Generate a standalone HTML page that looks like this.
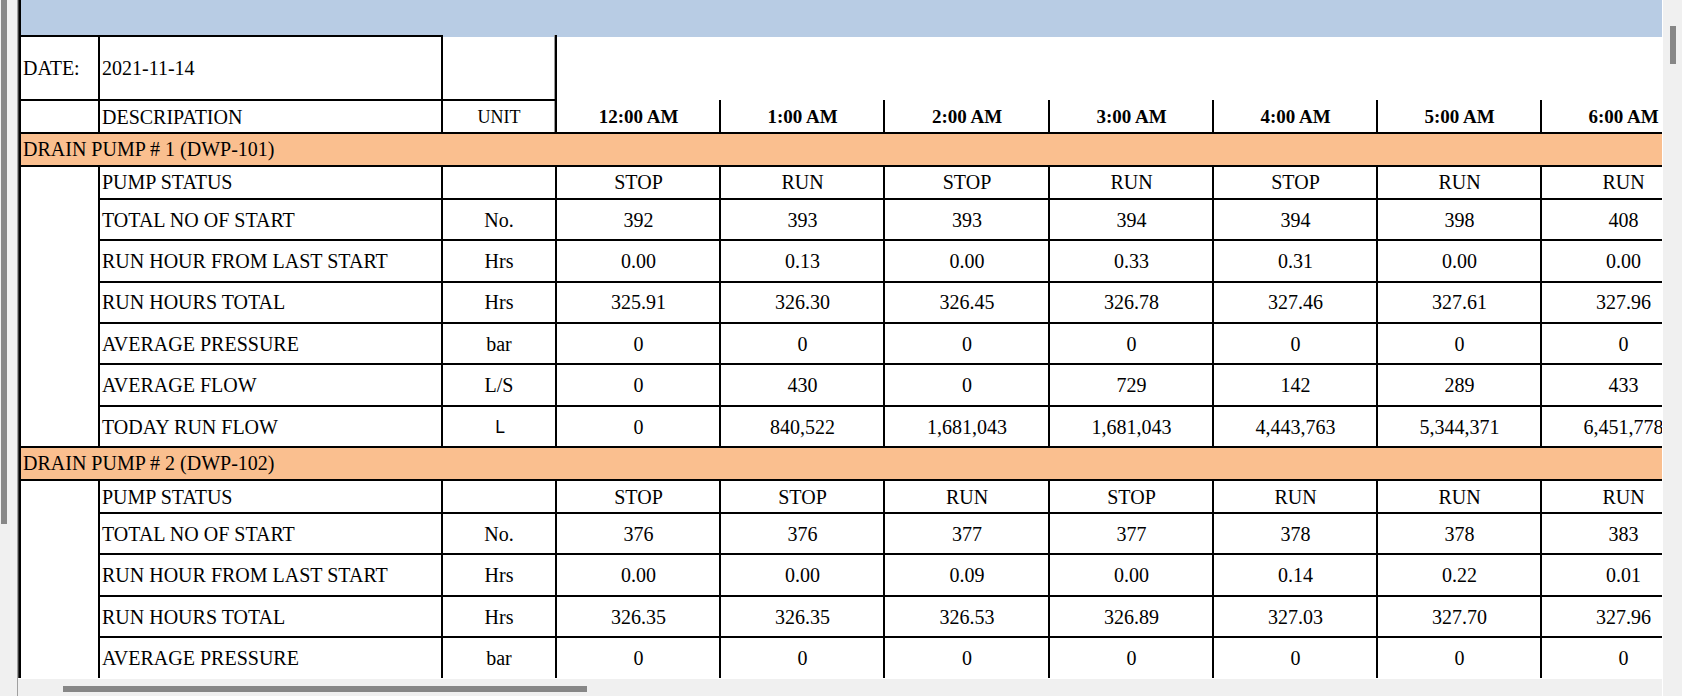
<!DOCTYPE html>
<html><head><meta charset="utf-8">
<style>
html,body{margin:0;padding:0;}
body{width:1682px;height:696px;overflow:hidden;background:#fff;position:relative;
font-family:"Liberation Serif",serif;font-size:20px;color:#000;}
#wrap{position:absolute;left:0;top:0;width:1682px;height:696px;overflow:hidden;}
#clip{position:absolute;left:0;top:0;width:1662px;height:678px;overflow:hidden;}
#clip div{position:absolute;box-sizing:border-box;}
.t{display:flex;align-items:center;white-space:nowrap;line-height:1;}
.b{font-weight:bold;font-size:19px;padding-top:0px;}
.s{font-family:"Liberation Sans",sans-serif;font-size:17.5px;padding-top:1px;transform:translate(1px,1px);}
.ui{position:absolute;}
</style></head><body><div id="wrap">
<div id="clip">
<div style="left:21px;top:0px;width:1641px;height:35px;background:#b8cce4;"></div>
<div style="left:443px;top:35px;width:1219px;height:2px;background:#b8cce4;"></div>
<div style="left:21px;top:134px;width:1641px;height:31px;background:#fabf8f;"></div>
<div style="left:21px;top:448px;width:1641px;height:31px;background:#fabf8f;"></div>
<div style="left:554px;top:35px;width:1px;height:98px;background:#999;"></div>
<div style="left:19px;top:35px;width:424px;height:2px;background:#000;"></div>
<div style="left:19px;top:99px;width:538px;height:2px;background:#000;"></div>
<div style="left:19px;top:132px;width:1643px;height:2px;background:#000;"></div>
<div style="left:19px;top:165px;width:1643px;height:2px;background:#000;"></div>
<div style="left:19px;top:446px;width:1643px;height:2px;background:#000;"></div>
<div style="left:19px;top:479px;width:1643px;height:2px;background:#000;"></div>
<div style="left:98px;top:198px;width:1564px;height:2px;background:#000;"></div>
<div style="left:98px;top:239px;width:1564px;height:2px;background:#000;"></div>
<div style="left:98px;top:281px;width:1564px;height:2px;background:#000;"></div>
<div style="left:98px;top:322px;width:1564px;height:2px;background:#000;"></div>
<div style="left:98px;top:363px;width:1564px;height:2px;background:#000;"></div>
<div style="left:98px;top:405px;width:1564px;height:2px;background:#000;"></div>
<div style="left:98px;top:512px;width:1564px;height:2px;background:#000;"></div>
<div style="left:98px;top:553px;width:1564px;height:2px;background:#000;"></div>
<div style="left:98px;top:595px;width:1564px;height:2px;background:#000;"></div>
<div style="left:98px;top:636px;width:1564px;height:2px;background:#000;"></div>
<div style="left:19px;top:0px;width:2px;height:678px;background:#000;"></div>
<div style="left:18px;top:0px;width:1px;height:678px;background:#3c3c3c;"></div>
<div style="left:98px;top:35px;width:2px;height:99px;background:#000;"></div>
<div style="left:98px;top:165px;width:2px;height:283px;background:#000;"></div>
<div style="left:98px;top:479px;width:2px;height:199px;background:#000;"></div>
<div style="left:441px;top:35px;width:2px;height:99px;background:#000;"></div>
<div style="left:441px;top:165px;width:2px;height:283px;background:#000;"></div>
<div style="left:441px;top:479px;width:2px;height:199px;background:#000;"></div>
<div style="left:555px;top:35px;width:2px;height:99px;background:#000;"></div>
<div style="left:555px;top:165px;width:2px;height:283px;background:#000;"></div>
<div style="left:555px;top:479px;width:2px;height:199px;background:#000;"></div>
<div style="left:719px;top:100px;width:2px;height:34px;background:#000;"></div>
<div style="left:719px;top:165px;width:2px;height:283px;background:#000;"></div>
<div style="left:719px;top:479px;width:2px;height:199px;background:#000;"></div>
<div style="left:883px;top:100px;width:2px;height:34px;background:#000;"></div>
<div style="left:883px;top:165px;width:2px;height:283px;background:#000;"></div>
<div style="left:883px;top:479px;width:2px;height:199px;background:#000;"></div>
<div style="left:1048px;top:100px;width:2px;height:34px;background:#000;"></div>
<div style="left:1048px;top:165px;width:2px;height:283px;background:#000;"></div>
<div style="left:1048px;top:479px;width:2px;height:199px;background:#000;"></div>
<div style="left:1212px;top:100px;width:2px;height:34px;background:#000;"></div>
<div style="left:1212px;top:165px;width:2px;height:283px;background:#000;"></div>
<div style="left:1212px;top:479px;width:2px;height:199px;background:#000;"></div>
<div style="left:1376px;top:100px;width:2px;height:34px;background:#000;"></div>
<div style="left:1376px;top:165px;width:2px;height:283px;background:#000;"></div>
<div style="left:1376px;top:479px;width:2px;height:199px;background:#000;"></div>
<div style="left:1540px;top:100px;width:2px;height:34px;background:#000;"></div>
<div style="left:1540px;top:165px;width:2px;height:283px;background:#000;"></div>
<div style="left:1540px;top:479px;width:2px;height:199px;background:#000;"></div>
<div class="t" style="left:21px;top:37px;width:77px;height:62px;justify-content:flex-start;padding-left:2px;">DATE:</div>
<div class="t" style="left:100px;top:37px;width:341px;height:62px;justify-content:flex-start;padding-left:2.0px;">2021-11-14</div>
<div class="t" style="left:100px;top:101px;width:341px;height:31px;justify-content:flex-start;padding-left:2.0px;">DESCRIPATION</div>
<div class="t" style="left:443px;top:101px;width:112px;height:31px;justify-content:center;padding-left:0px;font-size:18px;">UNIT</div>
<div class="t b" style="left:557.5px;top:101px;width:162px;height:31px;justify-content:center;padding-left:0px;">12:00 AM</div>
<div class="t b" style="left:721.5px;top:101px;width:162px;height:31px;justify-content:center;padding-left:0px;">1:00 AM</div>
<div class="t b" style="left:885.5px;top:101px;width:163px;height:31px;justify-content:center;padding-left:0px;">2:00 AM</div>
<div class="t b" style="left:1050.5px;top:101px;width:162px;height:31px;justify-content:center;padding-left:0px;">3:00 AM</div>
<div class="t b" style="left:1214.5px;top:101px;width:162px;height:31px;justify-content:center;padding-left:0px;">4:00 AM</div>
<div class="t b" style="left:1378.5px;top:101px;width:162px;height:31px;justify-content:center;padding-left:0px;">5:00 AM</div>
<div class="t b" style="left:1542.5px;top:101px;width:162px;height:31px;justify-content:center;padding-left:0px;">6:00 AM</div>
<div class="t" style="left:21px;top:133px;width:600px;height:31px;justify-content:flex-start;padding-left:2px;">DRAIN PUMP # 1 (DWP-101)</div>
<div class="t" style="left:21px;top:447px;width:600px;height:31px;justify-content:flex-start;padding-left:2px;">DRAIN PUMP # 2 (DWP-102)</div>
<div class="t" style="left:100px;top:166px;width:341px;height:32px;justify-content:flex-start;padding-left:2.0px;">PUMP STATUS</div>
<div class="t" style="left:557.5px;top:166px;width:162px;height:32px;justify-content:center;padding-left:0px;">STOP</div>
<div class="t" style="left:721.5px;top:166px;width:162px;height:32px;justify-content:center;padding-left:0px;">RUN</div>
<div class="t" style="left:885.5px;top:166px;width:163px;height:32px;justify-content:center;padding-left:0px;">STOP</div>
<div class="t" style="left:1050.5px;top:166px;width:162px;height:32px;justify-content:center;padding-left:0px;">RUN</div>
<div class="t" style="left:1214.5px;top:166px;width:162px;height:32px;justify-content:center;padding-left:0px;">STOP</div>
<div class="t" style="left:1378.5px;top:166px;width:162px;height:32px;justify-content:center;padding-left:0px;">RUN</div>
<div class="t" style="left:1542.5px;top:166px;width:162px;height:32px;justify-content:center;padding-left:0px;">RUN</div>
<div class="t" style="left:100px;top:200px;width:341px;height:39px;justify-content:flex-start;padding-left:2.0px;">TOTAL NO OF START</div>
<div class="t" style="left:443px;top:200px;width:112px;height:39px;justify-content:center;padding-left:0px;">No.</div>
<div class="t" style="left:557.5px;top:200px;width:162px;height:39px;justify-content:center;padding-left:0px;">392</div>
<div class="t" style="left:721.5px;top:200px;width:162px;height:39px;justify-content:center;padding-left:0px;">393</div>
<div class="t" style="left:885.5px;top:200px;width:163px;height:39px;justify-content:center;padding-left:0px;">393</div>
<div class="t" style="left:1050.5px;top:200px;width:162px;height:39px;justify-content:center;padding-left:0px;">394</div>
<div class="t" style="left:1214.5px;top:200px;width:162px;height:39px;justify-content:center;padding-left:0px;">394</div>
<div class="t" style="left:1378.5px;top:200px;width:162px;height:39px;justify-content:center;padding-left:0px;">398</div>
<div class="t" style="left:1542.5px;top:200px;width:162px;height:39px;justify-content:center;padding-left:0px;">408</div>
<div class="t" style="left:100px;top:241px;width:341px;height:40px;justify-content:flex-start;padding-left:2.0px;">RUN HOUR FROM LAST START</div>
<div class="t" style="left:443px;top:241px;width:112px;height:40px;justify-content:center;padding-left:0px;">Hrs</div>
<div class="t" style="left:557.5px;top:241px;width:162px;height:40px;justify-content:center;padding-left:0px;">0.00</div>
<div class="t" style="left:721.5px;top:241px;width:162px;height:40px;justify-content:center;padding-left:0px;">0.13</div>
<div class="t" style="left:885.5px;top:241px;width:163px;height:40px;justify-content:center;padding-left:0px;">0.00</div>
<div class="t" style="left:1050.5px;top:241px;width:162px;height:40px;justify-content:center;padding-left:0px;">0.33</div>
<div class="t" style="left:1214.5px;top:241px;width:162px;height:40px;justify-content:center;padding-left:0px;">0.31</div>
<div class="t" style="left:1378.5px;top:241px;width:162px;height:40px;justify-content:center;padding-left:0px;">0.00</div>
<div class="t" style="left:1542.5px;top:241px;width:162px;height:40px;justify-content:center;padding-left:0px;">0.00</div>
<div class="t" style="left:100px;top:282px;width:341px;height:40px;justify-content:flex-start;padding-left:2.0px;">RUN HOURS TOTAL</div>
<div class="t" style="left:443px;top:282px;width:112px;height:40px;justify-content:center;padding-left:0px;">Hrs</div>
<div class="t" style="left:557.5px;top:282px;width:162px;height:40px;justify-content:center;padding-left:0px;">325.91</div>
<div class="t" style="left:721.5px;top:282px;width:162px;height:40px;justify-content:center;padding-left:0px;">326.30</div>
<div class="t" style="left:885.5px;top:282px;width:163px;height:40px;justify-content:center;padding-left:0px;">326.45</div>
<div class="t" style="left:1050.5px;top:282px;width:162px;height:40px;justify-content:center;padding-left:0px;">326.78</div>
<div class="t" style="left:1214.5px;top:282px;width:162px;height:40px;justify-content:center;padding-left:0px;">327.46</div>
<div class="t" style="left:1378.5px;top:282px;width:162px;height:40px;justify-content:center;padding-left:0px;">327.61</div>
<div class="t" style="left:1542.5px;top:282px;width:162px;height:40px;justify-content:center;padding-left:0px;">327.96</div>
<div class="t" style="left:100px;top:324px;width:341px;height:39px;justify-content:flex-start;padding-left:2.0px;">AVERAGE PRESSURE</div>
<div class="t" style="left:443px;top:324px;width:112px;height:39px;justify-content:center;padding-left:0px;">bar</div>
<div class="t" style="left:557.5px;top:324px;width:162px;height:39px;justify-content:center;padding-left:0px;">0</div>
<div class="t" style="left:721.5px;top:324px;width:162px;height:39px;justify-content:center;padding-left:0px;">0</div>
<div class="t" style="left:885.5px;top:324px;width:163px;height:39px;justify-content:center;padding-left:0px;">0</div>
<div class="t" style="left:1050.5px;top:324px;width:162px;height:39px;justify-content:center;padding-left:0px;">0</div>
<div class="t" style="left:1214.5px;top:324px;width:162px;height:39px;justify-content:center;padding-left:0px;">0</div>
<div class="t" style="left:1378.5px;top:324px;width:162px;height:39px;justify-content:center;padding-left:0px;">0</div>
<div class="t" style="left:1542.5px;top:324px;width:162px;height:39px;justify-content:center;padding-left:0px;">0</div>
<div class="t" style="left:100px;top:365px;width:341px;height:40px;justify-content:flex-start;padding-left:2.0px;">AVERAGE FLOW</div>
<div class="t" style="left:443px;top:365px;width:112px;height:40px;justify-content:center;padding-left:0px;">L/S</div>
<div class="t" style="left:557.5px;top:365px;width:162px;height:40px;justify-content:center;padding-left:0px;">0</div>
<div class="t" style="left:721.5px;top:365px;width:162px;height:40px;justify-content:center;padding-left:0px;">430</div>
<div class="t" style="left:885.5px;top:365px;width:163px;height:40px;justify-content:center;padding-left:0px;">0</div>
<div class="t" style="left:1050.5px;top:365px;width:162px;height:40px;justify-content:center;padding-left:0px;">729</div>
<div class="t" style="left:1214.5px;top:365px;width:162px;height:40px;justify-content:center;padding-left:0px;">142</div>
<div class="t" style="left:1378.5px;top:365px;width:162px;height:40px;justify-content:center;padding-left:0px;">289</div>
<div class="t" style="left:1542.5px;top:365px;width:162px;height:40px;justify-content:center;padding-left:0px;">433</div>
<div class="t" style="left:100px;top:407px;width:341px;height:39px;justify-content:flex-start;padding-left:2.0px;">TODAY RUN FLOW</div>
<div class="t s" style="left:443px;top:407px;width:112px;height:39px;justify-content:center;padding-left:0px;">L</div>
<div class="t" style="left:557.5px;top:407px;width:162px;height:39px;justify-content:center;padding-left:0px;">0</div>
<div class="t" style="left:721.5px;top:407px;width:162px;height:39px;justify-content:center;padding-left:0px;">840,522</div>
<div class="t" style="left:885.5px;top:407px;width:163px;height:39px;justify-content:center;padding-left:0px;">1,681,043</div>
<div class="t" style="left:1050.5px;top:407px;width:162px;height:39px;justify-content:center;padding-left:0px;">1,681,043</div>
<div class="t" style="left:1214.5px;top:407px;width:162px;height:39px;justify-content:center;padding-left:0px;">4,443,763</div>
<div class="t" style="left:1378.5px;top:407px;width:162px;height:39px;justify-content:center;padding-left:0px;">5,344,371</div>
<div class="t" style="left:1542.5px;top:407px;width:162px;height:39px;justify-content:center;padding-left:0px;">6,451,778</div>
<div class="t" style="left:100px;top:481px;width:341px;height:31px;justify-content:flex-start;padding-left:2.0px;">PUMP STATUS</div>
<div class="t" style="left:557.5px;top:481px;width:162px;height:31px;justify-content:center;padding-left:0px;">STOP</div>
<div class="t" style="left:721.5px;top:481px;width:162px;height:31px;justify-content:center;padding-left:0px;">STOP</div>
<div class="t" style="left:885.5px;top:481px;width:163px;height:31px;justify-content:center;padding-left:0px;">RUN</div>
<div class="t" style="left:1050.5px;top:481px;width:162px;height:31px;justify-content:center;padding-left:0px;">STOP</div>
<div class="t" style="left:1214.5px;top:481px;width:162px;height:31px;justify-content:center;padding-left:0px;">RUN</div>
<div class="t" style="left:1378.5px;top:481px;width:162px;height:31px;justify-content:center;padding-left:0px;">RUN</div>
<div class="t" style="left:1542.5px;top:481px;width:162px;height:31px;justify-content:center;padding-left:0px;">RUN</div>
<div class="t" style="left:100px;top:514px;width:341px;height:39px;justify-content:flex-start;padding-left:2.0px;">TOTAL NO OF START</div>
<div class="t" style="left:443px;top:514px;width:112px;height:39px;justify-content:center;padding-left:0px;">No.</div>
<div class="t" style="left:557.5px;top:514px;width:162px;height:39px;justify-content:center;padding-left:0px;">376</div>
<div class="t" style="left:721.5px;top:514px;width:162px;height:39px;justify-content:center;padding-left:0px;">376</div>
<div class="t" style="left:885.5px;top:514px;width:163px;height:39px;justify-content:center;padding-left:0px;">377</div>
<div class="t" style="left:1050.5px;top:514px;width:162px;height:39px;justify-content:center;padding-left:0px;">377</div>
<div class="t" style="left:1214.5px;top:514px;width:162px;height:39px;justify-content:center;padding-left:0px;">378</div>
<div class="t" style="left:1378.5px;top:514px;width:162px;height:39px;justify-content:center;padding-left:0px;">378</div>
<div class="t" style="left:1542.5px;top:514px;width:162px;height:39px;justify-content:center;padding-left:0px;">383</div>
<div class="t" style="left:100px;top:555px;width:341px;height:40px;justify-content:flex-start;padding-left:2.0px;">RUN HOUR FROM LAST START</div>
<div class="t" style="left:443px;top:555px;width:112px;height:40px;justify-content:center;padding-left:0px;">Hrs</div>
<div class="t" style="left:557.5px;top:555px;width:162px;height:40px;justify-content:center;padding-left:0px;">0.00</div>
<div class="t" style="left:721.5px;top:555px;width:162px;height:40px;justify-content:center;padding-left:0px;">0.00</div>
<div class="t" style="left:885.5px;top:555px;width:163px;height:40px;justify-content:center;padding-left:0px;">0.09</div>
<div class="t" style="left:1050.5px;top:555px;width:162px;height:40px;justify-content:center;padding-left:0px;">0.00</div>
<div class="t" style="left:1214.5px;top:555px;width:162px;height:40px;justify-content:center;padding-left:0px;">0.14</div>
<div class="t" style="left:1378.5px;top:555px;width:162px;height:40px;justify-content:center;padding-left:0px;">0.22</div>
<div class="t" style="left:1542.5px;top:555px;width:162px;height:40px;justify-content:center;padding-left:0px;">0.01</div>
<div class="t" style="left:100px;top:597px;width:341px;height:39px;justify-content:flex-start;padding-left:2.0px;">RUN HOURS TOTAL</div>
<div class="t" style="left:443px;top:597px;width:112px;height:39px;justify-content:center;padding-left:0px;">Hrs</div>
<div class="t" style="left:557.5px;top:597px;width:162px;height:39px;justify-content:center;padding-left:0px;">326.35</div>
<div class="t" style="left:721.5px;top:597px;width:162px;height:39px;justify-content:center;padding-left:0px;">326.35</div>
<div class="t" style="left:885.5px;top:597px;width:163px;height:39px;justify-content:center;padding-left:0px;">326.53</div>
<div class="t" style="left:1050.5px;top:597px;width:162px;height:39px;justify-content:center;padding-left:0px;">326.89</div>
<div class="t" style="left:1214.5px;top:597px;width:162px;height:39px;justify-content:center;padding-left:0px;">327.03</div>
<div class="t" style="left:1378.5px;top:597px;width:162px;height:39px;justify-content:center;padding-left:0px;">327.70</div>
<div class="t" style="left:1542.5px;top:597px;width:162px;height:39px;justify-content:center;padding-left:0px;">327.96</div>
<div class="t" style="left:100px;top:638px;width:341px;height:39px;justify-content:flex-start;padding-left:2.0px;">AVERAGE PRESSURE</div>
<div class="t" style="left:443px;top:638px;width:112px;height:39px;justify-content:center;padding-left:0px;">bar</div>
<div class="t" style="left:557.5px;top:638px;width:162px;height:39px;justify-content:center;padding-left:0px;">0</div>
<div class="t" style="left:721.5px;top:638px;width:162px;height:39px;justify-content:center;padding-left:0px;">0</div>
<div class="t" style="left:885.5px;top:638px;width:163px;height:39px;justify-content:center;padding-left:0px;">0</div>
<div class="t" style="left:1050.5px;top:638px;width:162px;height:39px;justify-content:center;padding-left:0px;">0</div>
<div class="t" style="left:1214.5px;top:638px;width:162px;height:39px;justify-content:center;padding-left:0px;">0</div>
<div class="t" style="left:1378.5px;top:638px;width:162px;height:39px;justify-content:center;padding-left:0px;">0</div>
<div class="t" style="left:1542.5px;top:638px;width:162px;height:39px;justify-content:center;padding-left:0px;">0</div>
</div>
<!-- left strip -->
<div class="ui" style="left:0;top:0;width:17px;height:696px;background:#f0f0f0;"></div>
<div class="ui" style="left:1px;top:0;width:6px;height:524px;background:#878787;"></div>
<div class="ui" style="left:17px;top:0;width:1px;height:696px;background:#a0a0a0;"></div>
<!-- bottom bar -->
<div class="ui" style="left:18px;top:678px;width:1644px;height:1px;background:#fff;"></div>
<div class="ui" style="left:18px;top:679px;width:1644px;height:17px;background:#f0f0f0;"></div>
<div class="ui" style="left:63px;top:686px;width:524px;height:6px;background:#878787;"></div>
<!-- right bar -->
<div class="ui" style="left:1662px;top:0;width:1px;height:696px;background:#fff;"></div>
<div class="ui" style="left:1663px;top:0;width:19px;height:696px;background:#f0f0f0;"></div>
<div class="ui" style="left:1670px;top:26px;width:6px;height:38px;background:#878787;"></div>
</div></body></html>
